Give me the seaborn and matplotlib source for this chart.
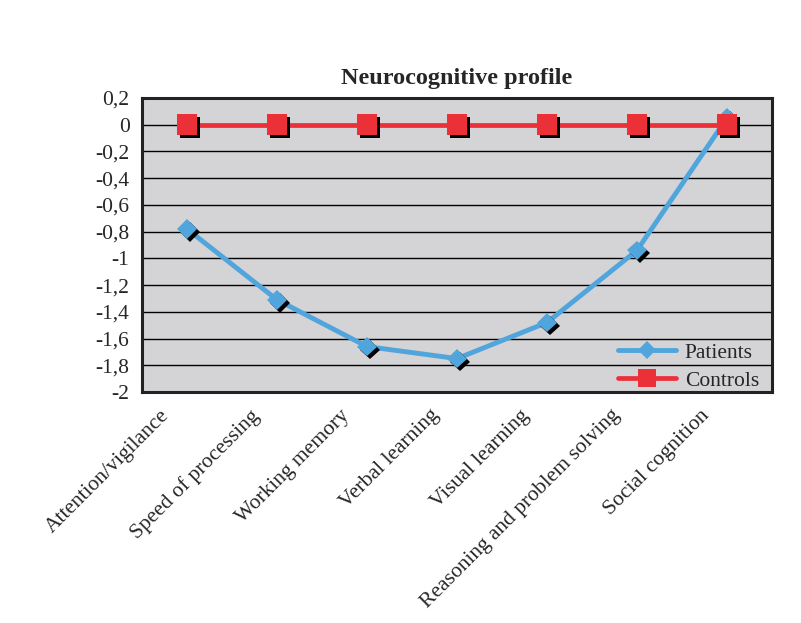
import numpy as np
import pandas as pd
import seaborn as sns
import matplotlib
matplotlib.use("Agg")
import matplotlib.pyplot as plt
import matplotlib.patheffects as pe
from matplotlib.lines import Line2D
from matplotlib.ticker import FuncFormatter, MultipleLocator

domains = ["Attention/vigilance", "Speed of processing", "Working memory",
           "Verbal learning", "Visual learning", "Reasoning and problem solving",
           "Social cognition"]
patients = [-0.78, -1.31, -1.66, -1.75, -1.48, -0.94, 0.05]
controls = [0, 0, 0, 0, 0, 0, 0]
groups = ["Patients", "Controls"]
colors = {"Patients": "#4fa5dc", "Controls": "#ec3038"}
markers = {"Patients": "D", "Controls": "s"}
msizes = {"Patients": 10, "Controls": 15}
lwidths = {"Patients": 3.5, "Controls": 3.4}

df = pd.DataFrame({
    "domain": domains * 2,
    "score": patients + controls,
    "group": ["Patients"] * len(domains) + ["Controls"] * len(domains),
})

sns.set_style("white")
plt.rcParams["font.family"] = ["Liberation Serif", "DejaVu Serif"]

fig = plt.figure(figsize=(8.01, 6.23), dpi=100)
ax = fig.add_axes([142 / 801, 1 - 392 / 623, 630 / 801, 294 / 623])
ax.set_facecolor("#d4d3d6")

shadow = [pe.SimplePatchShadow(offset=(2.2, -2.2), shadow_rgbFace="black", alpha=1.0), pe.Normal()]
for g in groups:
    sub = df[df["group"] == g]
    sns.lineplot(data=sub, x="domain", y="score", color=colors[g], lw=lwidths[g],
                 sort=False, ax=ax, legend=False, zorder=3)
    sns.lineplot(data=sub, x="domain", y="score", color=colors[g], lw=0, linestyle="",
                 marker=markers[g], markersize=msizes[g], markeredgewidth=0,
                 sort=False, ax=ax, legend=False, zorder=4, path_effects=shadow)

ax.set_xlim(-0.5, len(domains) - 0.5)
ax.set_ylim(-2, 0.2)
ax.yaxis.set_major_locator(MultipleLocator(0.2))

def fmt(v, pos):
    s = f"{v:.1f}"
    if s.endswith(".0"):
        s = s[:-2]
    if s == "-0":
        s = "0"
    return s.replace(".", ",")

ax.yaxis.set_major_formatter(FuncFormatter(fmt))
ax.grid(axis="y", color="black", lw=1.0)
ax.set_axisbelow(True)

# category labels sit slightly left of each category centre, as in the original
ax.set_xticks(np.arange(len(domains)) - 0.3)
ax.set_xticklabels(domains, rotation=45, ha="right", rotation_mode="anchor", fontsize=15.5)
ax.set_xticks(np.arange(-0.5, len(domains), 1.0), minor=True)
ax.tick_params(axis="x", which="major", length=0, pad=10)
ax.tick_params(axis="x", which="minor", length=6, width=1.8, direction="out", color="#222222")
ax.tick_params(axis="y", length=6, width=1.8, direction="out", color="#222222", labelsize=15.5, pad=3)
for s in ax.spines.values():
    s.set_visible(True)
    s.set_color("#222222")
    s.set_linewidth(2.2)

ax.set_xlabel("")
ax.set_ylabel("")
ax.set_title("Neurocognitive profile", fontsize=17.5, fontweight="bold", pad=10)

handles = [Line2D([], [], color=colors[g], lw=lwidths[g], marker=markers[g],
                  markersize=msizes[g] * 0.9, markeredgewidth=0) for g in groups]
ax.legend(handles, groups, loc="lower right", frameon=False, fontsize=15.5,
          handlelength=2.7, handletextpad=0.4, labelspacing=0.38,
          bbox_to_anchor=(1.01, -0.062))

fig.savefig("out.png", dpi=100)
